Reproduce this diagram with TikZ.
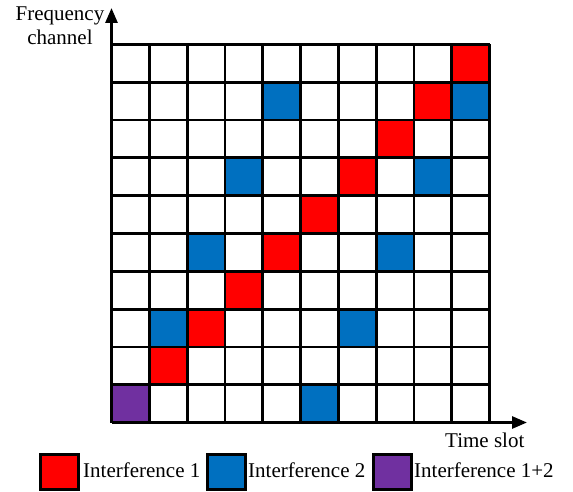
\documentclass[tikz,border=0pt]{standalone}
\usepackage{fontspec}
\setmainfont{Liberation Serif}
\usetikzlibrary{arrows.meta}
\definecolor{ired}{HTML}{FF0000}
\definecolor{iblue}{HTML}{0070C0}
\definecolor{ipurple}{HTML}{7030A0}
\tikzset{
  gridline/.style={line width=2.8pt},
  axisline/.style={line width=2.8pt,-{Triangle[length=15pt,width=12pt]}},
  legbox/.style={draw,line width=2.8pt,fill=#1,minimum width=38pt,minimum height=35pt,inner sep=0pt,anchor=north west},
  lbl/.style={font=\fontsize{21}{24}\selectfont,inner sep=0pt}
}
\begin{document}
\begin{tikzpicture}[x=1pt,y=-1pt]
\useasboundingbox (0,0) rectangle (573,492);
\def\gx{111.5}\def\gy{422.5}\def\cs{37.8}
% red cells (col,row from bottom)
\foreach \c in {1,...,9}{
  \fill[ired] (\gx+\c*\cs,\gy-\c*\cs) rectangle ++(\cs,-\cs);
}
% blue cells
\foreach \c/\r in {1/2,2/4,3/6,4/8,5/0,6/2,7/4,8/6,9/8}{
  \fill[iblue] (\gx+\c*\cs,\gy-\r*\cs) rectangle ++(\cs,-\cs);
}
% purple
\fill[ipurple] (\gx,\gy) rectangle ++(\cs,-\cs);
% grid
\foreach \i in {0,...,10}{
  \draw[gridline] (\gx+\i*\cs,\gy) -- (\gx+\i*\cs,\gy-10*\cs);
  \draw[gridline] (\gx,\gy-\i*\cs) -- (\gx+10*\cs,\gy-\i*\cs);
}
% axes
\coordinate (o) at (\gx,\gy);
\coordinate (ytip) at (\gx,8);
\coordinate (xtip) at (527,\gy);
\draw[axisline] (o) -- (ytip);
\draw[axisline] (o) -- (xtip);
\node[lbl,align=center,anchor=base] (ylab) at (60,45) {Frequency\\channel};
\node[lbl,anchor=base west] (xlab) at (445,447) {Time slot};
% legend
\node[legbox=ired] (l1) at (39,453) {};
\node[lbl,anchor=base west] (t1) at (83,477) {Interference 1};
\node[legbox=iblue] (l2) at (206,453) {};
\node[lbl,anchor=base west] (t2) at (248,477) {Interference 2};
\node[legbox=ipurple] (l3) at (372,453) {};
\node[lbl,anchor=base west] (t3) at (414,477) {Interference 1+2};
\end{tikzpicture}
\end{document}
